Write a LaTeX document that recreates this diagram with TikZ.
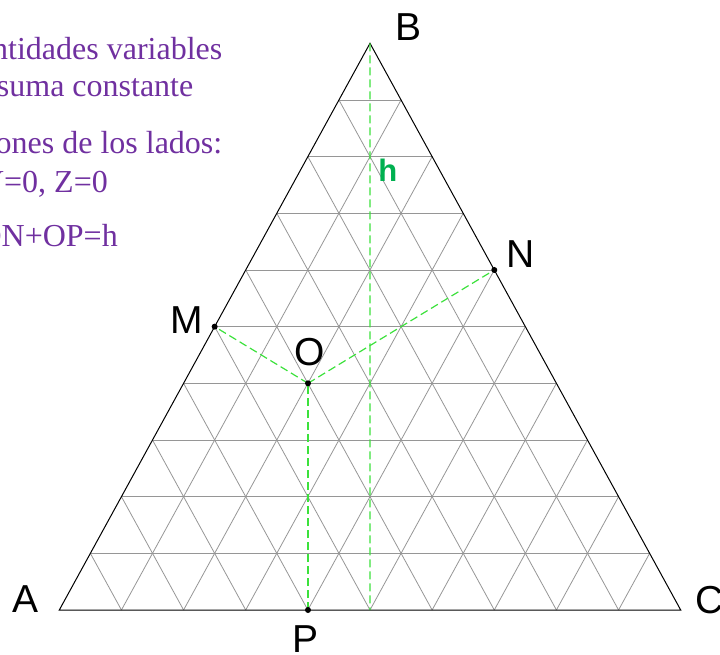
\documentclass[tikz,border=0pt]{standalone}
\usepackage{fontspec}
\setmainfont{Liberation Serif}
\setsansfont{Liberation Sans}
\usetikzlibrary{calc}
\definecolor{notepurple}{HTML}{7030A0}
\definecolor{hgreen}{HTML}{00B050}
\definecolor{perpgreen}{RGB}{60,225,60}
\definecolor{gridgray}{RGB}{150,150,150}

\begin{document}
\begin{tikzpicture}[x=1pt, y=-1pt,
        vertexlabel/.style={font=\sffamily\fontsize{39}{39}\selectfont, anchor=base, inner sep=0pt},
        note/.style={font=\fontsize{32}{32}\selectfont, text=notepurple, anchor=base east, inner sep=0pt},
        gridline/.style={gridgray, line width=0.8pt},
        perp/.style={perpgreen, line width=1.2pt, dash pattern=on 8pt off 4pt},
        dot/.style={circle, fill=black, inner sep=0pt, minimum size=6pt}]
        \clip (0,0) rectangle (720,655);

        % vertices and points
        \coordinate (A) at (59.3,610);
        \coordinate (B) at (370,43.3);
        \coordinate (C) at (680.7,610);
        \coordinate (H) at ($(A)!0.5!(C)$);
        \coordinate (M) at ($(A)!0.5!(B)$);
        \coordinate (N) at ($(C)!0.6!(B)$);
        \coordinate (P) at (308,610);
        \coordinate (O) at (308,383.3);

        % triangular grid
        \foreach \i in {1,...,9} {
            \draw[gridline] ($(A)!\i/10!(B)$) -- ($(C)!\i/10!(B)$);
            \draw[gridline] ($(A)!\i/10!(C)$) -- ($(A)!\i/10!(B)$);
            \draw[gridline] ($(A)!\i/10!(C)$) -- ($(B)!\i/10!(C)$);
        }
        \draw[line width=1pt] (A) -- (B) -- (C) -- cycle;

        % distances to the sides
        \draw[perp] (B) -- (H);
        \draw[perp] (O) -- (M);
        \draw[perp] (O) -- (N);
        \draw[perp] (P) -- (O);

        \node[dot] (dotM) at (M) {};
        \node[dot] (dotN) at (N) {};
        \node[dot] (dotO) at (O) {};
        \node[dot] (dotP) at (P) {};

        \node[vertexlabel] (labA) at (25.5,612.7) {A};
        \node[vertexlabel] (labB) at (408.2,40.7) {B};
        \node[vertexlabel] (labC) at (710,613) {C};
        \node[vertexlabel] (labM) at (186.7,333.3) {M};
        \node[vertexlabel] (labN) at (520.8,267.3) {N};
        \node[vertexlabel] (labO) at (309.5,365) {O};
        \node[vertexlabel] (labP) at (305.3,652.5) {P};
        \node[font=\sffamily\bfseries\fontsize{31}{31}\selectfont, text=hgreen, anchor=base, inner sep=0pt] (labh) at (387.8,181.7) {h};

        % text on the left
        \node[note] (line1) at (222.5,59.3) {ntidades variables};
        \node[note] (line2) at (193.5,96.7) {suma constante};
        \node[note] (line3) at (222.5,153.3) {ones de los lados:};
        \node[note] (line4) at (108,192.3) {Y=0, Z=0};
        \node[note] (line5) at (118,246.7) {ON+OP=h};
    \end{tikzpicture}
\end{document}
